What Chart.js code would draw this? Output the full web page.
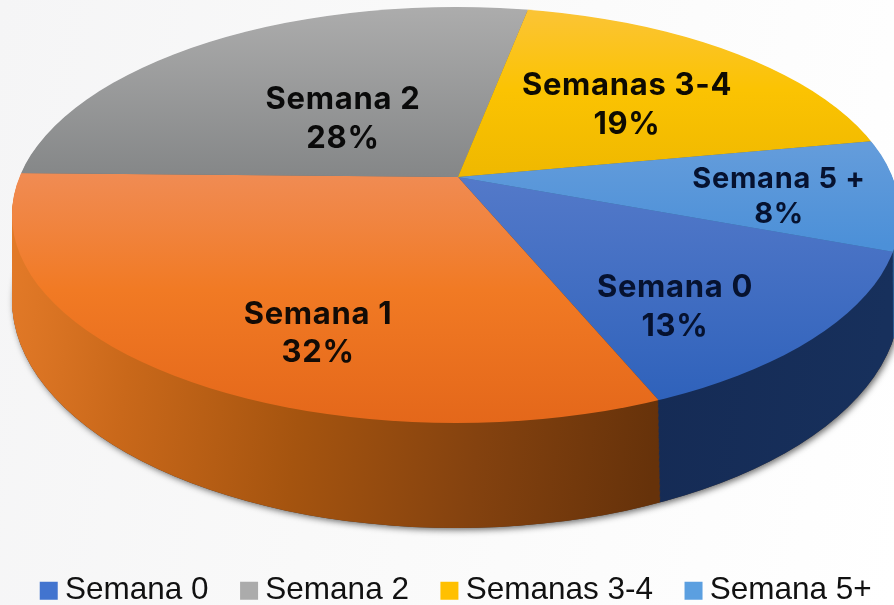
<!DOCTYPE html>
<html>
<head>
<meta charset="utf-8">
<script src="https://cdn.jsdelivr.net/npm/chart.js@4/dist/chart.umd.min.js"></script>
<style>
    html, body { margin: 0; height: 100%; overflow: hidden; }
    body { background: linear-gradient(100deg, #f5f5f6 0%, #f9f9f9 40%, #ffffff 100%); }
    canvas { display: block; }
</style>
</head>
<body>
<canvas id="pieChart" width="920" height="605"></canvas>
<script>
const categories = ["Semana 0", "Semana 1", "Semana 2", "Semanas 3-4", "Semana 5+"];
const shares = [13, 32, 28, 19, 8];
const sliceNames = ["Semana 0", "Semana 1", "Semana 2", "Semanas 3-4", "Semana 5 +"];
const hiddenInLegend = ["Semana 1"];
const legendColors = ["#4274cf", "#ef7a26", "#ababab", "#ffc000", "#5b9fe0"];

// the disc is a squashed pie, clipped to the ellipses measured on the picture
const apex = { x: 458, y: 177 };
const topDisc = { x: 456, y: 215, rx: 444, ry: 208 };
const bottomDisc = { x: 456, y: 300, rx: 444, ry: 228 };

const topShades = [
    [[180, "#5379c9"], [400, "#2f62bb"]],
    [[170, "#f08c55"], [290, "#f17a24"], [425, "#e4671a"]],
    [[8, "#acacac"], [175, "#858788"]],
    [[10, "#fbc436"], [90, "#fbc302"], [177, "#efb800"]],
    [[148, "#639cdb"], [245, "#4c90d8"]]
];
const sideShades = [
    [[650, "#152b55"], [894, "#17305c"]],
    [[12, "#e37a28"], [130, "#c9681a"], [300, "#a5540f"], [480, "#84420f"], [663, "#66320a"]],
    [[0, "#6e6e6e"], [894, "#6e6e6e"]],
    [[0, "#a07a00"], [894, "#a07a00"]],
    [[0, "#2f5f92"], [894, "#2f5f92"]]
];

const labelSpots = [
    { x: 675, y: 288, gap: 39, size: 31, color: "#06122f" },
    { x: 318, y: 315, gap: 38, size: 31, color: "#120b06" },
    { x: 343, y: 100, gap: 39, size: 31, color: "#0a0a0a" },
    { x: 627, y: 86, gap: 39, size: 31, color: "#0e0b02" },
    { x: 779, y: 179, gap: 35, size: 29, color: "#06122f" }
];

function discPath(ctx, d) {
    ctx.beginPath();
    ctx.ellipse(d.x, d.y, d.rx, d.ry, 0, 0, Math.PI * 2);
}

const disc3d = {
    id: "disc3d",
    beforeDraw(chart) {
        chart.legend.top = 535;
    },
    beforeDatasetDraw(chart) {
        const ctx = chart.ctx;
        const arcs = chart.getDatasetMeta(0).data;
        const cx = arcs[0].x, cy = arcs[0].y;
        const scale = 1000 / arcs[0].outerRadius;

        const shade = (stops, horizontal) => {
            const a = stops[0][0], b = stops[stops.length - 1][0];
            const g = horizontal
                ? ctx.createLinearGradient((a - apex.x) / scale + cx, 0, (b - apex.x) / scale + cx, 0)
                : ctx.createLinearGradient(0, (a - apex.y) / (scale / 2) + cy, 0, (b - apex.y) / (scale / 2) + cy);
            stops.forEach(s => g.addColorStop((s[0] - a) / (b - a), s[1]));
            return g;
        };
        const paint = (shades, horizontal, shift) => {
            // lean slightly left while sweeping so the rim seam stays upright
            ctx.translate(apex.x - shift * 0.16, apex.y + shift);
            ctx.scale(scale, scale / 2);
            ctx.translate(-cx, -cy);
            arcs.forEach((arc, i) => {
                const keep = arc.options;
                arc.options = Object.assign({}, keep, { backgroundColor: shade(shades[i], horizontal) });
                arc.draw(ctx);
                arc.options = keep;
            });
        };

        // soft shadow under the rim
        ctx.save();
        ctx.shadowColor = "rgba(30,30,30,0.65)";
        ctx.shadowBlur = 6;
        ctx.shadowOffsetX = 2;
        ctx.shadowOffsetY = 2;
        ctx.fillStyle = "#4a3a30";
        discPath(ctx, bottomDisc);
        ctx.fill();
        ctx.restore();

        // rim: sweep the pie from the bottom ellipse up to the top one
        const depth = bottomDisc.y - topDisc.y;
        for (let k = depth; k > 0; k--) {
            const t = k / depth;
            ctx.save();
            discPath(ctx, {
                x: topDisc.x,
                y: topDisc.y + k,
                rx: topDisc.rx,
                ry: topDisc.ry + (bottomDisc.ry - topDisc.ry) * t
            });
            ctx.clip();
            paint(sideShades, true, k);
            ctx.restore();
        }

        // top face
        ctx.save();
        discPath(ctx, topDisc);
        ctx.clip();
        paint(topShades, false, 0);
        ctx.restore();
        return false;
    },
    afterDatasetsDraw(chart) {
        const ctx = chart.ctx;
        ctx.save();
        ctx.letterSpacing = "0.7px";
        ctx.textAlign = "center";
        ctx.textBaseline = "middle";
        sliceNames.forEach((name, i) => {
            const spot = labelSpots[i];
            ctx.font = "700 " + spot.size + "px Inter";
            ctx.fillStyle = spot.color;
            ctx.fillText(name, spot.x, spot.y);
            ctx.fillText(shares[i] + "%", spot.x, spot.y + spot.gap);
        });
        ctx.restore();
    }
};

new Chart(document.getElementById("pieChart"), {
    type: "pie",
    data: {
        labels: categories,
        datasets: [{ data: shares, backgroundColor: legendColors, borderWidth: 0 }]
    },
    options: {
        responsive: false,
        animation: false,
        events: [],
        rotation: 109,
        plugins: {
            tooltip: { enabled: false },
            legend: {
                position: "bottom",
                labels: {
                    boxWidth: 1,
                    boxHeight: 1,
                    padding: 40,
                    color: "#111111",
                    font: { family: "'Liberation Sans', Arial, sans-serif", size: 31.5 },
                    filter: item => !hiddenInLegend.includes(item.text),
                    generateLabels(chart) {
                        return Chart.overrides.pie.plugins.legend.labels.generateLabels(chart).map(item => {
                            item.strokeStyle = item.fillStyle;
                            item.lineWidth = 17;
                            return item;
                        });
                    }
                }
            }
        }
    },
    plugins: [disc3d]
});
</script>
</body>
</html>
